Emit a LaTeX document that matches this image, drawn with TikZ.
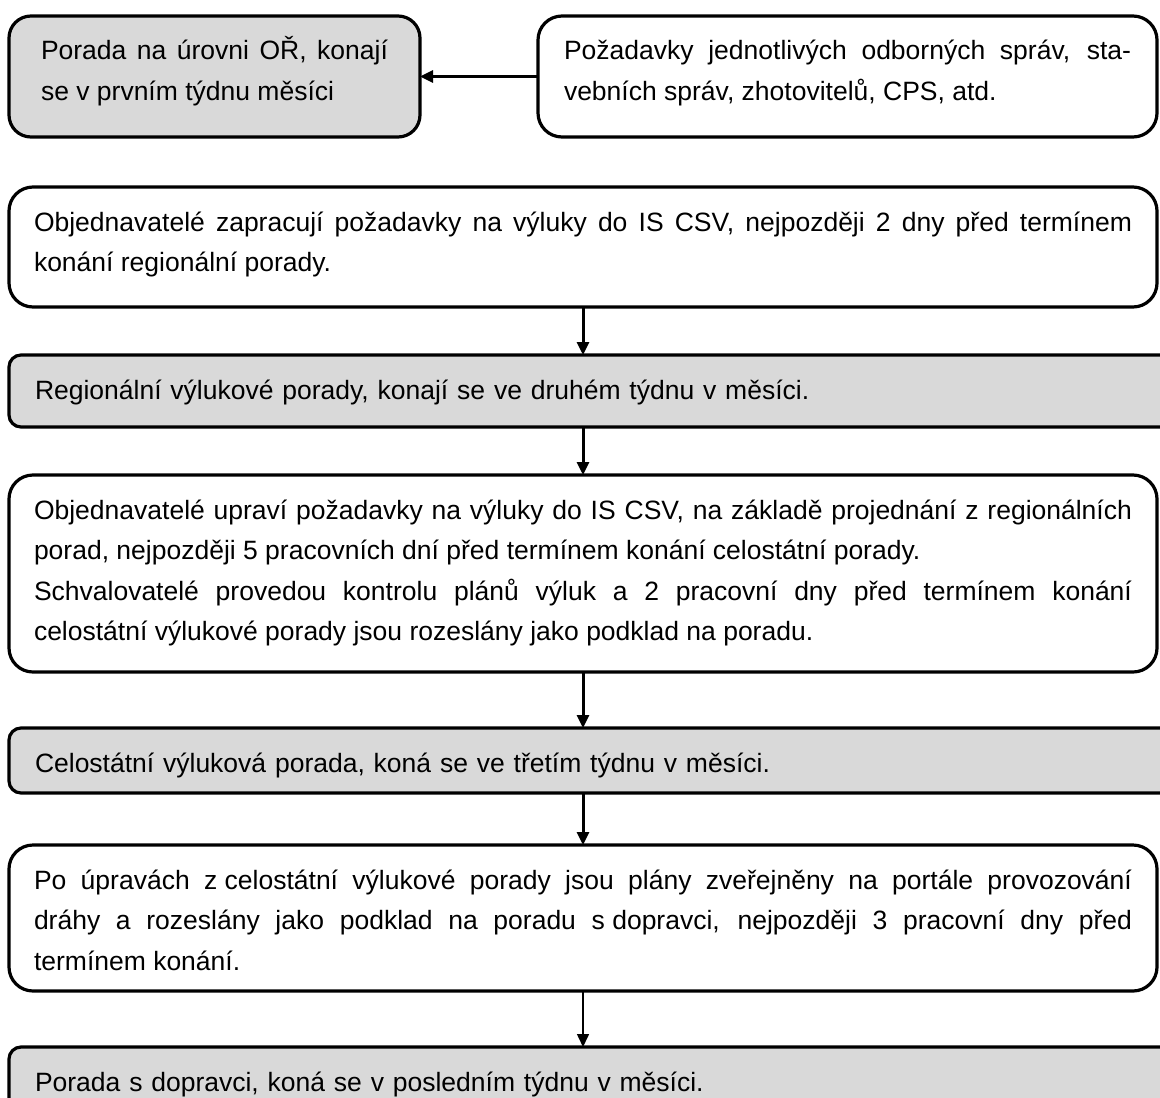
\documentclass[tikz,border=0pt]{standalone}
\usepackage{fontspec}
\setmainfont{Liberation Sans}
\usepackage{tikz}
\usetikzlibrary{arrows.meta}

\definecolor{boxgray}{RGB}{217,217,217}
\hyphenpenalty=10000
\tolerance=9999

\begin{document}
\begin{tikzpicture}[
    x=0.5pt, y=-0.5pt,
    box/.style={draw, line width=1.6pt, rectangle, rounded corners=12pt,
                align=justify, anchor=north west, inner ysep=0pt, outer sep=0pt,
                text height=22pt, font=\fontsize{13.25pt}{20.25pt}\selectfont},
    greybox/.style={box, fill=boxgray},
    wide/.style={box, text width=549pt, inner xsep=12.5pt},
    strip/.style={greybox, rounded corners=6pt, align=left,
                  text width=557pt, inner xsep=13pt},
    arrow/.style={-{Triangle[length=6.5pt, width=6pt]}, line width=1.5pt}
]
\useasboundingbox (0,0) rectangle (1160,1097);

\node[greybox, rounded corners=11pt, text width=173.5pt, minimum width=205.5pt,
      text depth=38.5pt] (oru) at (9,16)
  {Porada na úrovni OŘ, konají\linebreak se v prvním týdnu měsíci};
\node[box, text width=283.5pt, inner xsep=13pt, text depth=38.5pt] (req) at (538,16)
  {Požadavky jednotlivých odborných správ, sta-\linebreak vebních správ, zhotovitelů, CPS, atd.};

\node[wide, text depth=38pt] (zap) at (9,187)
  {Objednavatelé zapracují požadavky na výluky do IS CSV, nejpozději 2 dny před termínem\linebreak
   konání regionální porady.};
\node[strip, text depth=14pt] (reg) at (9,355)
  {Regionální výlukové porady, konají se ve druhém týdnu v měsíci.};
\node[wide, text depth=76.5pt] (upr) at (9,475)
  {Objednavatelé upraví požadavky na výluky do IS CSV, na základě projednání z regionálních\linebreak
   porad, nejpozději 5 pracovních dní před termínem konání celostátní porady.\\
   Schvalovatelé provedou kontrolu plánů výluk a 2 pracovní dny před termínem konání\linebreak
   celostátní výlukové porady jsou rozeslány jako podklad na poradu.};
\node[strip, text depth=10.5pt] (cel) at (9,728)
  {Celostátní výluková porada, koná se ve třetím týdnu v měsíci.};
\node[wide, text depth=51pt] (pub) at (9,845)
  {Po úpravách \mbox{z celostátní} výlukové porady jsou plány zveřejněny na portále provozování\linebreak
   dráhy a rozeslány jako podklad na poradu \mbox{s dopravci}, nejpozději 3 pracovní dny před\linebreak
   termínem konání.};
\node[strip, text depth=14pt] (dop) at (9,1047)
  {Porada s dopravci, koná se v posledním týdnu v měsíci.};

\draw[arrow] (req.west) -- (oru.east);
\draw[arrow] (zap.south) -- (zap.south |- reg.north);
\draw[arrow] (zap.south |- reg.south) -- (upr.north);
\draw[arrow] (upr.south) -- (upr.south |- cel.north);
\draw[arrow] (upr.south |- cel.south) -- (pub.north);
\draw[arrow, line width=.75pt] (pub.south) -- (pub.south |- dop.north);
\end{tikzpicture}
\end{document}
